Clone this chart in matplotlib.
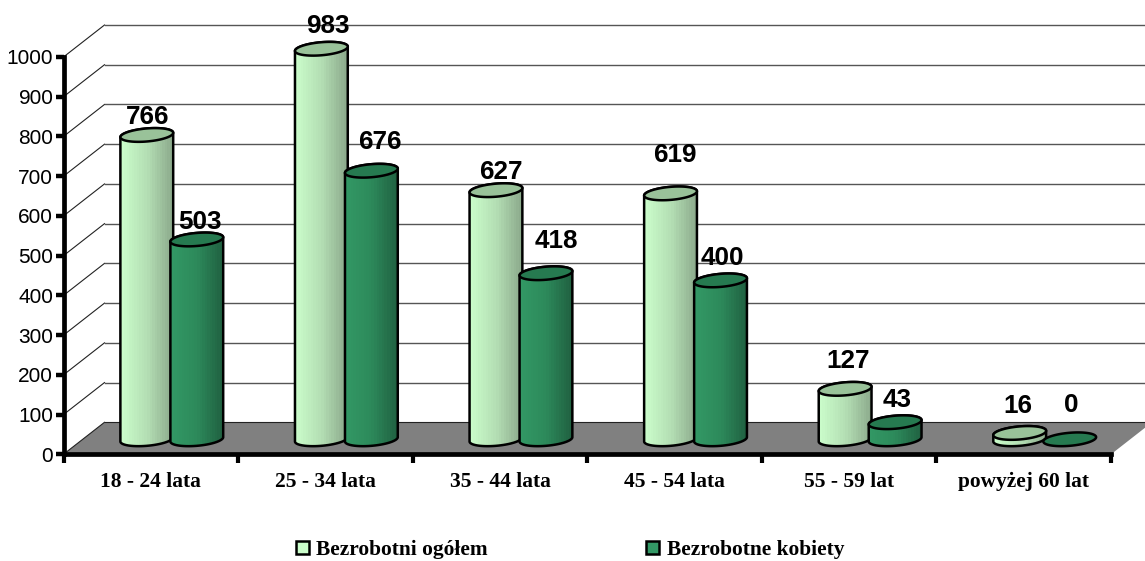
import numpy as np
import matplotlib
matplotlib.use('Agg')
import matplotlib.pyplot as plt
from matplotlib.colors import LinearSegmentedColormap
from matplotlib.patches import Patch, Polygon

categories = ['18 - 24 lata', '25 - 34 lata', '35 - 44 lata', '45 - 54 lata', '55 - 59 lat', 'powyżej 60 lat']
ogolem = [766, 983, 627, 619, 127, 16]
kobiety = [503, 676, 418, 400, 43, 0]
y_ticks = [0, 100, 200, 300, 400, 500, 600, 700, 800, 900, 1000]

# hand placed labels in the original, offset from the bar top in pixels
label_shift_ogolem = [(1, 18), (6, 23), (5, 18), (4, 38), (3, 28), (-2, 27)]
label_shift_kobiety = [(3, 17), (8, 29), (10, 32), (2, 22), (2, 22), (2, 34)]

W, H = 1145, 561
x0, x1, y0, y1 = 63.5, 1111, 454.3, 57

plt.rcParams['text.hinting'] = 'no_autohint'
fig = plt.figure(figsize=(W / 100, H / 100), dpi=100)
ax = fig.add_axes([x0 / W, 1 - y0 / H, (x1 - x0) / W, (y0 - y1) / H])

# pixels per data unit
sx = (x1 - x0) / 6
sy = (y0 - y1) / 1000
depth_x, depth_y = 41 / sx, 32 / sy

light_cmap = LinearSegmentedColormap.from_list('light', ['#ccffcc', '#b4dfb4', '#8ba88b'], N=22)
dark_cmap = LinearSegmentedColormap.from_list('dark', ['#339966', '#2d8a5b', '#205f40'], N=22)


def ellipse(xc, yc, t):
    # slightly tilted ellipse, size given in pixels
    a, b, tilt = 26.5, 6.5, np.radians(5)
    dx = a * np.cos(t) * np.cos(tilt) - b * np.sin(t) * np.sin(tilt)
    dy = a * np.cos(t) * np.sin(tilt) + b * np.sin(t) * np.cos(tilt)
    return np.column_stack([xc + dx / sx, yc + dy / sy])


def cylinder(xc, value, cmap, top_color, z):
    base = 15 / sy
    lower = ellipse(xc, base, np.linspace(np.pi, 2 * np.pi, 60))
    upper = ellipse(xc, base + value, np.linspace(0, np.pi, 60))
    body = Polygon(np.vstack([lower, upper]), closed=True, fc='none', ec='none', zorder=z)
    if value > 0:
        ax.add_patch(body)
        im = ax.imshow(np.linspace(0, 1, 22)[None, :], cmap=cmap, aspect='auto', interpolation='nearest',
                       extent=[xc - 28 / sx, xc + 28 / sx, base - 10 / sy, base + value + 10 / sy], zorder=z)
        im.set_clip_path(body)
        im.set_clip_box(fig.bbox)
        ax.add_patch(Polygon(np.vstack([lower, upper]), closed=True, fc='none', ec='black', lw=1.8,
                             zorder=z + 0.1, clip_on=False))
    top = ellipse(xc, base + value, np.linspace(0, 2 * np.pi, 120))
    ax.add_patch(Polygon(top, closed=True, fc=top_color, ec='black', lw=1.8, zorder=z + 0.2, clip_on=False))


# floor and back wall
ax.add_patch(Polygon([(0, 0), (depth_x, depth_y), (6 + depth_x, depth_y), (6, 0)], closed=True,
                     fc='#808080', ec='none', zorder=1, clip_on=False))
for v in y_ticks:
    ax.plot([0, depth_x], [v, v + depth_y], color='#222222', lw=0.8, zorder=2, clip_on=False)
    if v > 0:
        ax.plot([depth_x, 6 + depth_x], [v + depth_y, v + depth_y], color='#555555', lw=1.0, zorder=2, clip_on=False)
ax.plot([depth_x, 6 + depth_x], [depth_y, depth_y], color='#222222', lw=0.8, zorder=2, clip_on=False)

for i in range(len(categories)):
    mid = i + 0.5 + (21 / sx)
    xa, xb = mid - 25 / sx, mid + 25 / sx
    cylinder(xa, ogolem[i], light_cmap, '#99c299', 3 + i * 2)
    cylinder(xb, kobiety[i], dark_cmap, '#267a50', 4 + i * 2)
    for xc, v, shift in ((xa, ogolem[i], label_shift_ogolem[i]), (xb, kobiety[i], label_shift_kobiety[i])):
        ax.annotate(str(v), (xc, 15 / sy + v), xytext=shift, textcoords='offset pixels', ha='center', va='center',
                    family='Liberation Sans', fontweight='bold', fontsize=18.8, color='black', zorder=30,
                    annotation_clip=False)

ax.set_xlim(0, 6)
ax.set_ylim(0, 1000)
ax.set_aspect('auto')
for side in ('top', 'right'):
    ax.spines[side].set_visible(False)
for side in ('left', 'bottom'):
    ax.spines[side].set_linewidth(3.4)
    ax.spines[side].set_zorder(25)
ax.patch.set_alpha(0)

ax.set_yticks(y_ticks)
ax.set_yticklabels([str(v) for v in y_ticks], family='Liberation Sans', fontsize=15)
ax.tick_params(axis='y', width=3.2, length=6, pad=1.5, color='black')
ax.set_xticks(range(7))
ax.set_xticklabels([])
ax.tick_params(axis='x', which='major', width=3, length=6.5, direction='out')
ax.set_xticks(np.arange(6) + 0.5, minor=True)
ax.set_xticklabels(categories, minor=True, family='Liberation Serif', fontweight='bold', fontsize=15.4)
ax.tick_params(axis='x', which='minor', length=0, pad=13)

handles = [Patch(fc='#ccffcc', ec='black', lw=1.8, label='Bezrobotni ogółem'),
           Patch(fc='#339966', ec='black', lw=1.8, label='Bezrobotne kobiety')]
fig.legend(handles=handles, ncol=2, loc='center', bbox_to_anchor=(570 / W, 1 - 549.5 / H), frameon=False,
           prop={'family': 'Liberation Serif', 'weight': 'bold', 'size': 15.4},
           handlelength=0.62, handleheight=0.62, handletextpad=0.33, columnspacing=7.4, borderpad=0)

fig.savefig('out.png', dpi=100)
